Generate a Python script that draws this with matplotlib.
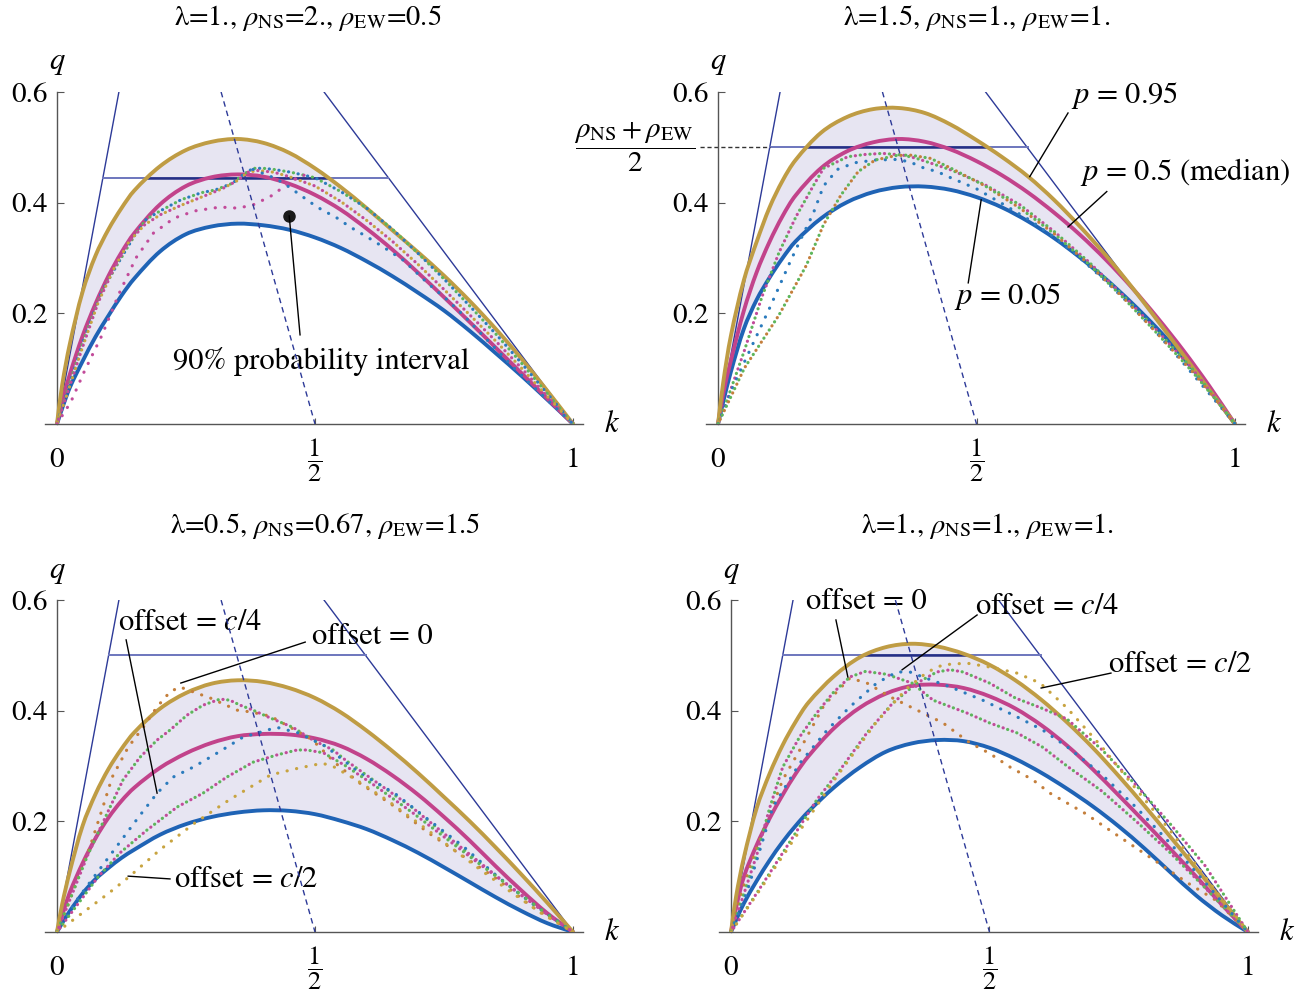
import matplotlib
matplotlib.use('Agg')
import matplotlib.pyplot as plt
import numpy as np
from matplotlib.path import Path
from matplotlib.patches import PathPatch

plt.rcParams['font.family'] = ['STIXGeneral', 'DejaVu Serif']
plt.rcParams['mathtext.fontset'] = 'stix'

# density grid shared by the percentile curves
K = [0, 0.01, 0.025, 0.05, 0.075, 0.1, 0.125, 0.15, 0.2, 0.25, 0.3, 0.35, 0.4,
     0.45, 0.5, 0.55, 0.6, 0.65, 0.7, 0.75, 0.8, 0.85, 0.9, 0.95, 1.0]

# p = 0.05 / 0.5 / 0.95 flow curves, one set per panel
q1_lo = [0, 0.028, 0.066, 0.114, 0.158, 0.196, 0.232, 0.263, 0.312, 0.343, 0.357, 0.362, 0.359,
         0.351, 0.337, 0.318, 0.294, 0.267, 0.237, 0.205, 0.168, 0.128, 0.087, 0.044, 0]
q1_med = [0, 0.04, 0.09, 0.16, 0.218, 0.268, 0.31, 0.345, 0.397, 0.43, 0.446, 0.451, 0.447,
          0.434, 0.414, 0.387, 0.353, 0.315, 0.273, 0.229, 0.184, 0.138, 0.092, 0.046, 0]
q1_hi = [0, 0.07, 0.145, 0.24, 0.305, 0.352, 0.39, 0.422, 0.466, 0.495, 0.51, 0.515, 0.508,
         0.49, 0.462, 0.428, 0.39, 0.35, 0.31, 0.268, 0.222, 0.172, 0.118, 0.06, 0]

q2_lo = [0, 0.04, 0.095, 0.172, 0.225, 0.265, 0.3, 0.33, 0.372, 0.401, 0.419, 0.428, 0.429,
         0.423, 0.41, 0.391, 0.366, 0.336, 0.301, 0.262, 0.219, 0.172, 0.12, 0.062, 0]
q2_med = [0, 0.055, 0.115, 0.205, 0.275, 0.33, 0.376, 0.413, 0.463, 0.493, 0.509, 0.515, 0.51,
          0.496, 0.475, 0.449, 0.418, 0.382, 0.342, 0.297, 0.247, 0.192, 0.133, 0.069, 0]
q2_hi = [0, 0.075, 0.16, 0.26, 0.33, 0.392, 0.44, 0.477, 0.527, 0.555, 0.569, 0.571, 0.562,
         0.541, 0.513, 0.482, 0.447, 0.405, 0.357, 0.305, 0.248, 0.187, 0.125, 0.062, 0]

q3_lo = [0, 0.016, 0.038, 0.07, 0.096, 0.116, 0.134, 0.149, 0.176, 0.195, 0.208, 0.216, 0.22,
         0.219, 0.213, 0.201, 0.186, 0.166, 0.143, 0.117, 0.09, 0.063, 0.038, 0.016, 0]
q3_med = [0, 0.03, 0.072, 0.125, 0.17, 0.207, 0.237, 0.261, 0.297, 0.323, 0.342, 0.354, 0.358,
          0.357, 0.35, 0.336, 0.313, 0.283, 0.248, 0.208, 0.165, 0.119, 0.075, 0.034, 0]
q3_hi = [0, 0.05, 0.11, 0.193, 0.25, 0.295, 0.331, 0.361, 0.404, 0.432, 0.449, 0.455, 0.452,
         0.441, 0.423, 0.397, 0.364, 0.327, 0.287, 0.244, 0.2, 0.153, 0.104, 0.053, 0]

q4_lo = [0, 0.022, 0.052, 0.093, 0.13, 0.163, 0.192, 0.218, 0.262, 0.298, 0.326, 0.341, 0.347,
         0.345, 0.333, 0.313, 0.288, 0.259, 0.227, 0.191, 0.151, 0.108, 0.066, 0.03, 0]
q4_med = [0, 0.045, 0.1, 0.158, 0.206, 0.248, 0.286, 0.318, 0.369, 0.406, 0.431, 0.445, 0.447,
          0.441, 0.426, 0.404, 0.374, 0.337, 0.294, 0.247, 0.199, 0.15, 0.1, 0.049, 0]
q4_hi = [0, 0.065, 0.135, 0.225, 0.287, 0.338, 0.38, 0.415, 0.463, 0.497, 0.515, 0.521, 0.516,
         0.503, 0.483, 0.455, 0.42, 0.379, 0.333, 0.282, 0.228, 0.172, 0.115, 0.057, 0]

# straight guide lines (same in every panel)
free_k, free_q = [0, 0.12], [0, 0.6]
jam_k, jam_q = [0.5175, 1.0], [0.6, 0]
wave_k, wave_q = [0.318, 0.5], [0.6, 0]
cap_q = [0.445, 0.5, 0.5, 0.5]
cap_k_left = [0.089, 0.1, 0.1, 0.1]
cap_k_right = [0.642, 0.599, 0.598, 0.599]

titles = [r'λ=1., $\rho_{\mathrm{NS}}$=2., $\rho_{\mathrm{EW}}$=0.5',
          r'λ=1.5, $\rho_{\mathrm{NS}}$=1., $\rho_{\mathrm{EW}}$=1.',
          r'λ=0.5, $\rho_{\mathrm{NS}}$=0.67, $\rho_{\mathrm{EW}}$=1.5',
          r'λ=1., $\rho_{\mathrm{NS}}$=1., $\rho_{\mathrm{EW}}$=1.']
title_k = [0.486, 0.5, 0.52, 0.497]

# simulated (k, q) traces
t1a_k = [0, 0.02, 0.053, 0.087, 0.12, 0.15, 0.173, 0.2, 0.24, 0.28, 0.307, 0.34, 0.36, 0.38, 0.40,
         0.42, 0.453, 0.5, 0.55, 0.6, 0.65, 0.7, 0.75, 0.8, 0.85, 0.9, 0.95, 1.0]
t1a_q = [0, 0.06, 0.155, 0.24, 0.293, 0.34, 0.37, 0.385, 0.405, 0.418, 0.423, 0.435, 0.45, 0.462,
         0.462, 0.46, 0.455, 0.445, 0.42, 0.39, 0.352, 0.308, 0.262, 0.213, 0.163, 0.11, 0.055, 0]
t1b_k = [0, 0.02, 0.05, 0.08, 0.11, 0.14, 0.17, 0.2, 0.24, 0.28, 0.32, 0.35, 0.37, 0.39, 0.42,
         0.45, 0.5, 0.55, 0.6, 0.65, 0.7, 0.75, 0.8, 0.85, 0.9, 0.95, 1.0]
t1b_q = [0, 0.055, 0.14, 0.22, 0.28, 0.33, 0.36, 0.378, 0.395, 0.41, 0.425, 0.44, 0.455, 0.458,
         0.455, 0.447, 0.43, 0.402, 0.368, 0.33, 0.288, 0.243, 0.197, 0.15, 0.101, 0.05, 0]
t1c_k = [0, 0.027, 0.053, 0.087, 0.12, 0.153, 0.187, 0.227, 0.267, 0.316, 0.351, 0.38, 0.4,
         0.419, 0.438, 0.457, 0.48]
t1c_q = [0, 0.04, 0.095, 0.16, 0.235, 0.3, 0.345, 0.372, 0.385, 0.392, 0.39, 0.396, 0.405,
         0.414, 0.428, 0.441, 0.45]
t1d_k = [0.38, 0.42, 0.438, 0.471, 0.504, 0.543, 0.568, 0.601, 0.632, 0.671, 0.72, 0.753, 0.787,
         0.82, 0.853, 0.887, 0.92, 0.96, 1.0]
t1d_q = [0.46, 0.445, 0.436, 0.414, 0.392, 0.372, 0.356, 0.338, 0.32, 0.296, 0.253, 0.227, 0.197,
         0.165, 0.133, 0.1, 0.07, 0.035, 0]

t2a_k = [0, 0.02, 0.05, 0.085, 0.118, 0.151, 0.184, 0.204, 0.251, 0.284, 0.318, 0.357, 0.384,
         0.451, 0.517, 0.584, 0.65, 0.717, 0.784, 0.85, 0.917, 0.97, 1.0]
t2a_q = [0, 0.05, 0.13, 0.23, 0.31, 0.375, 0.43, 0.462, 0.483, 0.487, 0.489, 0.486, 0.48,
         0.459, 0.432, 0.396, 0.348, 0.293, 0.232, 0.168, 0.1, 0.038, 0]
t2b_k = [0, 0.03, 0.06, 0.1, 0.138, 0.158, 0.184, 0.204, 0.231, 0.264, 0.304, 0.344, 0.37, 0.397,
         0.424, 0.45, 0.5, 0.55, 0.6, 0.65, 0.7, 0.75, 0.8, 0.85, 0.9, 0.95, 1.0]
t2b_q = [0, 0.07, 0.13, 0.21, 0.29, 0.33, 0.38, 0.43, 0.46, 0.472, 0.477, 0.478, 0.474, 0.463,
         0.456, 0.445, 0.425, 0.398, 0.37, 0.338, 0.3, 0.258, 0.213, 0.163, 0.11, 0.055, 0]
t2c_k = [0, 0.051, 0.118, 0.171, 0.204, 0.238, 0.271, 0.304, 0.344, 0.371, 0.411, 0.451, 0.517,
         0.584, 0.65, 0.717, 0.784, 0.85, 0.917, 0.97, 1.0]
t2c_q = [0, 0.101, 0.197, 0.287, 0.36, 0.414, 0.456, 0.477, 0.485, 0.486, 0.48, 0.462, 0.43,
         0.39, 0.344, 0.289, 0.228, 0.163, 0.095, 0.036, 0]

t3_off0_k = [0, 0.02, 0.04, 0.064, 0.089, 0.107, 0.138, 0.167, 0.194, 0.219, 0.238, 0.264, 0.297,
             0.349, 0.374, 0.414, 0.494, 0.54, 0.587, 0.654, 0.72, 0.787, 0.854, 0.92, 1.0]
t3_off0_q = [0, 0.045, 0.095, 0.154, 0.226, 0.28, 0.334, 0.37, 0.407, 0.434, 0.443, 0.434, 0.423,
             0.401, 0.398, 0.39, 0.348, 0.305, 0.269, 0.227, 0.179, 0.137, 0.095, 0.046, 0]
t3_up_k = [0, 0.03, 0.06, 0.103, 0.128, 0.161, 0.194, 0.219, 0.252, 0.283, 0.316, 0.335, 0.355,
           0.38, 0.413, 0.457, 0.496, 0.535, 0.56, 0.62, 0.687, 0.754, 0.82, 0.887, 0.954, 1.0]
t3_up_q = [0, 0.07, 0.14, 0.226, 0.275, 0.316, 0.347, 0.365, 0.392, 0.41, 0.421, 0.419, 0.41,
           0.401, 0.387, 0.37, 0.347, 0.329, 0.31, 0.27, 0.226, 0.175, 0.125, 0.075, 0.03, 0]
t3_c4_k = [0, 0.04, 0.08, 0.12, 0.16, 0.194, 0.225, 0.264, 0.297, 0.329, 0.36, 0.393, 0.426,
           0.467, 0.52, 0.587, 0.654, 0.72, 0.787, 0.854, 0.92, 1.0]
t3_c4_q = [0, 0.06, 0.11, 0.16, 0.21, 0.251, 0.28, 0.298, 0.316, 0.334, 0.352, 0.361, 0.37,
           0.36, 0.336, 0.287, 0.251, 0.203, 0.155, 0.1, 0.052, 0]
t3_low_k = [0, 0.04, 0.08, 0.122, 0.174, 0.233, 0.283, 0.329, 0.38, 0.426, 0.465, 0.484, 0.516,
            0.56, 0.62, 0.69, 0.75, 0.82, 0.89, 0.95, 1.0]
t3_low_q = [0, 0.05, 0.1, 0.143, 0.184, 0.226, 0.251, 0.28, 0.307, 0.32, 0.329, 0.329, 0.324,
            0.3, 0.262, 0.215, 0.172, 0.122, 0.074, 0.032, 0]
t3_c2_k = [0, 0.05, 0.1, 0.14, 0.2, 0.267, 0.334, 0.414, 0.467, 0.514, 0.534, 0.58, 0.64, 0.7,
           0.76, 0.82, 0.88, 0.94, 1.0]
t3_c2_q = [0, 0.035, 0.07, 0.1, 0.149, 0.197, 0.239, 0.284, 0.296, 0.305, 0.3, 0.275, 0.238,
           0.197, 0.155, 0.113, 0.072, 0.033, 0]

t4_off0_k = [0, 0.02, 0.045, 0.075, 0.1, 0.133, 0.18, 0.23, 0.263, 0.308, 0.36, 0.41, 0.462, 0.5,
             0.54, 0.584, 0.617, 0.684, 0.75, 0.817, 0.883, 0.937, 1.0]
t4_off0_q = [0, 0.07, 0.14, 0.215, 0.275, 0.329, 0.41, 0.459, 0.45, 0.425, 0.401, 0.378, 0.342,
             0.323, 0.298, 0.275, 0.251, 0.215, 0.173, 0.131, 0.089, 0.058, 0]
t4_up_k = [0, 0.02, 0.05, 0.075, 0.1, 0.133, 0.166, 0.197, 0.23, 0.26, 0.3, 0.35, 0.391, 0.456,
           0.5, 0.553, 0.603, 0.65, 0.717, 0.784, 0.85, 0.917, 1.0]
t4_up_q = [0, 0.055, 0.14, 0.225, 0.298, 0.353, 0.396, 0.432, 0.461, 0.471, 0.466, 0.45, 0.419,
           0.396, 0.378, 0.36, 0.334, 0.3, 0.255, 0.2, 0.143, 0.08, 0]
t4_c4_k = [0, 0.03, 0.05, 0.081, 0.133, 0.186, 0.23, 0.282, 0.321, 0.346, 0.371, 0.424, 0.487,
           0.553, 0.603, 0.65, 0.717, 0.784, 0.85, 0.917, 1.0]
t4_c4_q = [0, 0.07, 0.13, 0.226, 0.305, 0.365, 0.407, 0.45, 0.47, 0.47, 0.461, 0.443, 0.419,
           0.389, 0.365, 0.335, 0.285, 0.225, 0.16, 0.09, 0]
t4_low_k = [0, 0.051, 0.12, 0.166, 0.211, 0.263, 0.313, 0.36, 0.398, 0.424, 0.449, 0.5, 0.55,
            0.6, 0.65, 0.717, 0.784, 0.85, 0.917, 1.0]
t4_low_q = [0, 0.072, 0.172, 0.239, 0.293, 0.36, 0.414, 0.45, 0.47, 0.474, 0.47, 0.45, 0.423,
            0.405, 0.385, 0.33, 0.265, 0.195, 0.12, 0]
t4_c2_k = [0, 0.05, 0.12, 0.2, 0.28, 0.34, 0.38, 0.41, 0.456, 0.5, 0.553, 0.598, 0.65, 0.717,
           0.784, 0.85, 0.917, 0.95, 1.0]
t4_c2_q = [0, 0.068, 0.165, 0.275, 0.378, 0.44, 0.47, 0.483, 0.486, 0.479, 0.468, 0.45, 0.405,
           0.335, 0.258, 0.183, 0.1, 0.06, 0]

BLUE, MAG, GREEN, GOLD, ORANGE = '#2b7bbd', '#c24b9a', '#5db65b', '#c8a441', '#c47f3c'
NAVY = '#2d3a98'

curves = [(q1_lo, q1_med, q1_hi), (q2_lo, q2_med, q2_hi),
          (q3_lo, q3_med, q3_hi), (q4_lo, q4_med, q4_hi)]
traces = [
    [(t1a_k, t1a_q, BLUE, GREEN), (t1b_k, t1b_q, GOLD, MAG), (t1c_k, t1c_q, MAG, MAG),
     (t1d_k, t1d_q, BLUE, BLUE)],
    [(t2a_k, t2a_q, MAG, GREEN), (t2b_k, t2b_q, BLUE, BLUE), (t2c_k, t2c_q, GREEN, ORANGE)],
    [(t3_off0_k, t3_off0_q, ORANGE, ORANGE), (t3_up_k, t3_up_q, GREEN, MAG),
     (t3_c4_k, t3_c4_q, BLUE, BLUE), (t3_low_k, t3_low_q, GREEN, MAG),
     (t3_c2_k, t3_c2_q, GOLD, GOLD)],
    [(t4_off0_k, t4_off0_q, ORANGE, ORANGE), (t4_up_k, t4_up_q, GREEN, MAG),
     (t4_c4_k, t4_c4_q, BLUE, BLUE), (t4_low_k, t4_low_q, GREEN, MAG),
     (t4_c2_k, t4_c2_q, GOLD, GOLD)],
]


def smooth_verts(xs, ys):
    # cubic Bezier pieces through the read points (chord-length tangents)
    P = np.column_stack([xs, ys]).astype(float)
    t = np.concatenate([[0], np.cumsum(np.hypot(*np.diff(P, axis=0).T))])
    m = np.zeros_like(P)
    m[0] = (P[1] - P[0]) / (t[1] - t[0])
    m[-1] = (P[-1] - P[-2]) / (t[-1] - t[-2])
    m[1:-1] = (P[2:] - P[:-2]) / (t[2:] - t[:-2])[:, None]
    verts = [P[0]]
    for i in range(len(P) - 1):
        h = t[i + 1] - t[i]
        verts += [P[i] + m[i] * h / 3, P[i + 1] - m[i + 1] * h / 3, P[i + 1]]
    return verts


def curve_path(xs, ys):
    v = smooth_verts(xs, ys)
    return Path(v, [Path.MOVETO] + [Path.CURVE4] * (len(v) - 1))


def band_path(xs, lo, hi):
    top = smooth_verts(xs, hi)
    bot = smooth_verts(xs, lo)[::-1]
    v = top + bot[1:] + [top[0]]
    codes = [Path.MOVETO] + [Path.CURVE4] * (len(top) - 1) + [Path.CURVE4] * (len(bot) - 1) + [Path.CLOSEPOLY]
    return Path(v, codes)


fig = plt.figure(figsize=(13.09, 9.91), dpi=100)
boxes = [[0.0317, 0.5722, 0.4179, 0.335], [0.5367, 0.5722, 0.4186, 0.335],
         [0.0317, 0.0595, 0.4179, 0.335], [0.5466, 0.0595, 0.4186, 0.335]]

axes = []
for i in range(4):
    ax = fig.add_axes(boxes[i])
    axes.append(ax)
    ax.set_xlim(-0.03, 1.03)
    ax.set_ylim(0, 0.6)
    lo, med, hi = curves[i]

    band = PathPatch(band_path(K, lo, hi), facecolor='#e7e5f2', lw=0, zorder=1)
    ax.add_patch(band)

    ax.plot(free_k, free_q, color=NAVY, lw=1.0, zorder=2)
    ax.plot(jam_k, jam_q, color=NAVY, lw=1.0, zorder=2)
    ax.plot([cap_k_left[i], cap_k_right[i]], [cap_q[i], cap_q[i]], color='#6d76bd', lw=1.4, zorder=2)
    inner, = ax.plot([cap_k_left[i], cap_k_right[i]], [cap_q[i], cap_q[i]],
                     color='#252f85', lw=1.8, zorder=2.1)
    inner.set_clip_path(band)

    for q, c in [(lo, '#1f63b5'), (med, '#c2438b'), (hi, '#bf9c44')]:
        ax.add_patch(PathPatch(curve_path(K, q), fill=False, edgecolor=c, lw=2.8,
                               capstyle='round', zorder=3))

    for tk, tq, c1, c2 in traces[i]:
        ax.plot(tk, tq, color=c1, lw=2.3, ls=(0, (0.05, 3.0)), dash_capstyle='round', zorder=4)
        if c2 != c1:
            ax.plot(tk, tq, color=c2, lw=2.3, ls=(1.5, (0.05, 3.0)), dash_capstyle='round', zorder=4)

    ax.plot(wave_k, wave_q, color=NAVY, lw=1.0, ls=(0, (4, 3)), zorder=5)

    # Mathematica-like axes through the origin
    for s in ['top', 'right']:
        ax.spines[s].set_visible(False)
    ax.spines['left'].set_position(('data', 0))
    ax.spines['left'].set_bounds(0, 0.6)
    ax.spines['bottom'].set_bounds(-0.023, 1.02)
    for s in ['left', 'bottom']:
        ax.spines[s].set_color('#555555')
        ax.spines[s].set_linewidth(1.0)
    ax.set_yticks([0.2, 0.4, 0.6])
    ax.set_yticklabels(['0.2', '0.4', '0.6'])
    ax.set_xticks([0, 0.5, 1])
    ax.set_xticklabels(['0', r'$\dfrac{1}{2}$', '1'])
    ax.tick_params(axis='y', direction='in', length=5, pad=7, labelsize=21, color='#555555')
    ax.tick_params(axis='x', direction='in', length=4, pad=26, labelsize=21, color='#555555')
    for lab in ax.get_xticklabels():
        lab.set_va('center')
    ax.get_xticklabels()[1].set_fontsize(19)
    ax.patch.set_visible(False)

    ax.text(0, 0.655, 'q', style='italic', fontsize=22, ha='center', va='center')
    ax.text(1.075, 0.0, 'k', style='italic', fontsize=22, ha='center', va='center')
    ax.text(title_k[i], 0.733, titles[i], fontsize=20.5, ha='center', va='center')

ax1, ax2, ax3, ax4 = axes
FS = 22

ax1.plot(0.45, 0.376, 'o', color='#1a1a1a', ms=8, zorder=6)
ax1.plot([0.45, 0.471], [0.376, 0.161], color='black', lw=1, zorder=6)
ax1.text(0.512, 0.112, '90% probability interval', fontsize=FS, ha='center', va='center')

ax2.text(0.787, 0.593, '$p$ = 0.95', fontsize=FS, ha='center', va='center')
ax2.plot([0.677, 0.603], [0.562, 0.447], color='black', lw=1, zorder=6)
ax2.text(0.903, 0.456, '$p$ = 0.5 (median)', fontsize=FS, ha='center', va='center')
ax2.plot([0.752, 0.677], [0.42, 0.356], color='black', lw=1, zorder=6)
ax2.text(0.561, 0.23, '$p$ = 0.05', fontsize=FS, ha='center', va='center')
ax2.plot([0.484, 0.509], [0.255, 0.405], color='black', lw=1, zorder=6)
ax2.plot([-0.035, cap_k_left[1]], [cap_q[1], cap_q[1]], color='#333333', lw=1,
         ls=(0, (3, 2)), clip_on=False, zorder=2)
ax2.text(-0.162, cap_q[1], r'$\dfrac{\rho_{\mathrm{NS}}+\rho_{\mathrm{EW}}}{2}$', fontsize=21,
         ha='center', va='center')

ax3.text(0.258, 0.559, 'offset = $c$/4', fontsize=FS, ha='center', va='center')
ax3.plot([0.134, 0.194], [0.528, 0.251], color='black', lw=1, zorder=6)
ax3.text(0.612, 0.533, 'offset = 0', fontsize=FS, ha='center', va='center')
ax3.plot([0.481, 0.24], [0.524, 0.45], color='black', lw=1, zorder=6)
ax3.text(0.367, 0.094, 'offset = $c$/2', fontsize=FS, ha='center', va='center')
ax3.plot([0.219, 0.138], [0.096, 0.101], color='black', lw=1, zorder=6)

ax4.text(0.261, 0.597, 'offset = 0', fontsize=FS, ha='center', va='center')
ax4.plot([0.203, 0.226], [0.564, 0.461], color='black', lw=1, zorder=6)
ax4.text(0.611, 0.588, 'offset = $c$/4', fontsize=FS, ha='center', va='center')
ax4.plot([0.476, 0.331], [0.573, 0.474], color='black', lw=1, zorder=6)
ax4.text(0.869, 0.483, 'offset = $c$/2', fontsize=FS, ha='center', va='center')
ax4.plot([0.735, 0.6], [0.468, 0.441], color='black', lw=1, zorder=6)

fig.savefig('out.png', dpi=100)
